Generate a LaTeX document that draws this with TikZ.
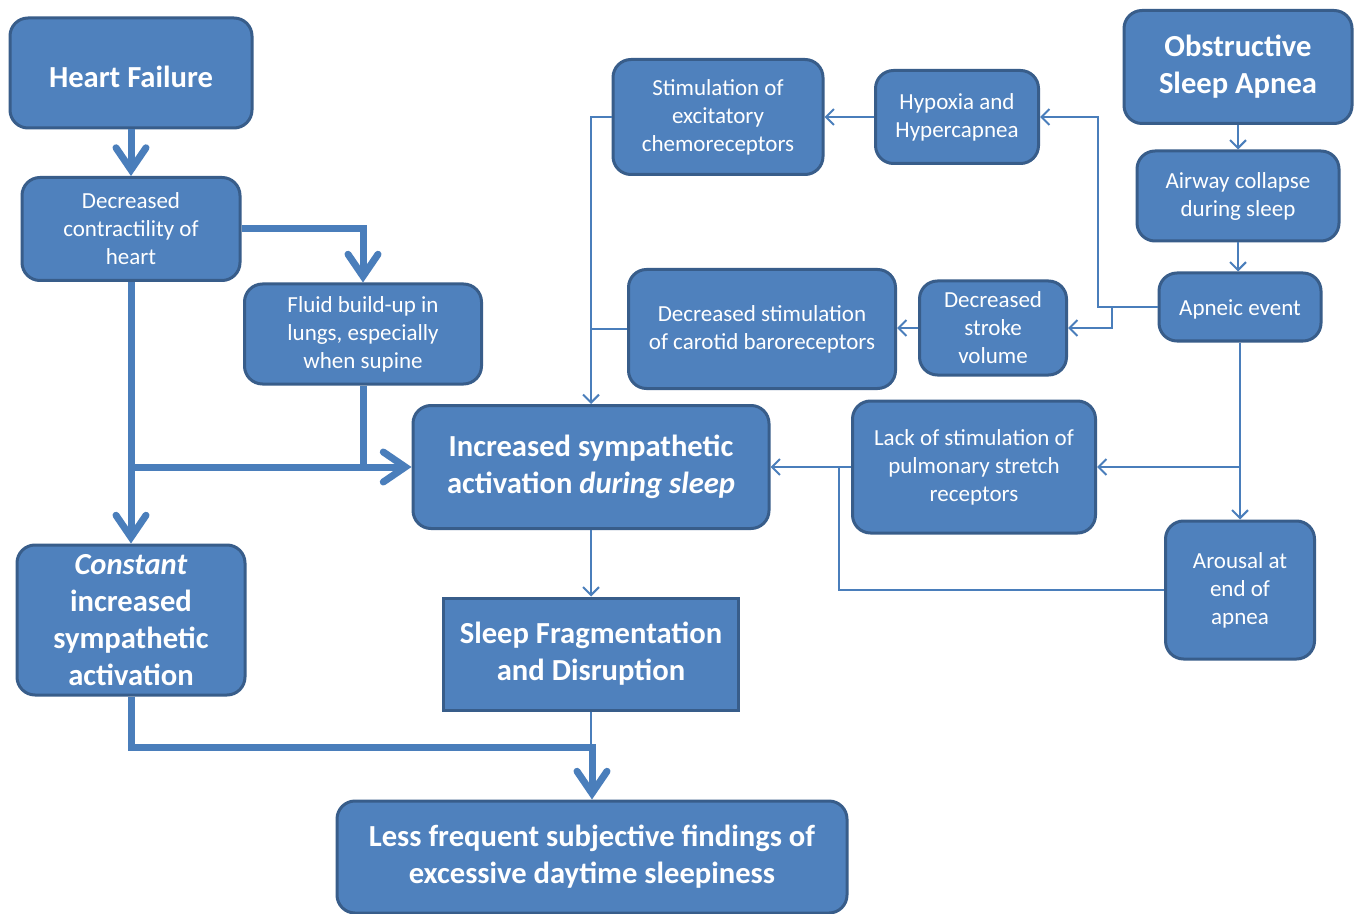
\documentclass[tikz,border=0pt]{standalone}
\usepackage{fontspec}
\setmainfont{Carlito}
\usetikzlibrary{arrows.meta, calc}
\definecolor{boxfill}{HTML}{4F81BD}
\definecolor{boxline}{HTML}{385D8A}
\definecolor{wire}{HTML}{4A7EBB}
\newcommand\smalltxt{\fontsize{11.5}{14}\selectfont}
\newcommand\bigtxt{\fontsize{15.3}{18.5}\selectfont\bfseries}
\tikzset{
	box/.style = {draw=boxline, fill=boxfill, line width=1.5pt, rounded corners=9pt,
		text=white, align=center, inner sep=0pt, font=\smalltxt,
		execute at begin node={\rule{0pt}{10pt}}},
	bigbox/.style = {box, font=\bigtxt, execute at begin node={\rule{0pt}{15pt}}},
	thinline/.style = {draw=wire, line width=1pt},
	thinarr/.style = {thinline, -{Straight Barb[length=4pt, width=8pt]}},
	thickline/.style = {draw=wire, line width=3.5pt},
	thickarr/.style = {thickline, -{Straight Barb[length=11pt, width=15pt, line cap=round]}}
}

\begin{document}
\begin{tikzpicture}[x=0.5pt, y=-0.5pt]
					\useasboundingbox[fill=white] (0,0) rectangle (1358,914);
					% ====== Heart failure side ========
					\node[bigbox, minimum width=121pt, minimum height=55pt] (hf) at (131,73) {Heart Failure};
					\node[box, minimum width=109pt, minimum height=51.5pt] (dc) at (131,229) {Decreased\\contractility of\\heart};
					\node[box, minimum width=118.5pt, minimum height=50pt] (fluid) at (363,334) {Fluid build-up in\\lungs, especially\\when supine};
					\node[bigbox, minimum width=114pt, minimum height=75pt] (const) at (131,620) {\textit{Constant}\\increased\\sympathetic\\activation};
					% ====== Middle ========
					\node[bigbox, minimum width=178pt, minimum height=61.5pt] (incr) at (591,467) {Increased sympathetic\\activation \textit{during sleep}};
					\node[bigbox, rounded corners=0pt, minimum width=147.5pt, minimum height=56pt] (frag) at (591,654) {Sleep Fragmentation\\and Disruption};
					\node[bigbox, minimum width=255pt, minimum height=56pt] (less) at (592,857) {Less frequent subjective findings of\\excessive daytime sleepiness};
					\node[box, minimum width=105pt, minimum height=57.5pt] (stim) at (718,117) {Stimulation of\\excitatory\\chemoreceptors};
					\node[box, minimum width=133.5pt, minimum height=59.5pt] (car) at (762,329) {Decreased stimulation\\of carotid baroreceptors};
					% ====== Sleep apnea side ========
					\node[bigbox, minimum width=114pt, minimum height=56.5pt] (osa) at (1238,67) {Obstructive\\Sleep Apnea};
					\node[box, minimum width=101pt, minimum height=45pt] (air) at (1238,196) {Airway collapse\\during sleep};
					\node[box, minimum width=81pt, minimum height=34pt] (apn) at (1240,307) {Apneic event};
					\node[box, minimum width=81.5pt, minimum height=46.5pt] (hyp) at (957,117) {Hypoxia and\\Hypercapnea};
					\node[box, minimum width=73.5pt, minimum height=47pt] (sv) at (993,328) {Decreased\\stroke\\volume};
					\node[box, minimum width=121.5pt, minimum height=66pt] (lack) at (974,467) {Lack of stimulation of\\pulmonary stretch\\receptors};
					\node[box, minimum width=74.5pt, minimum height=69pt] (aro) at (1240,590) {Arousal at\\end of\\apnea};
					\coordinate (jb) at (592,747);
					\coordinate (ja) at (839,467);
					% ====== Thick links ========
					\draw[thickarr] (hf) -- (dc);
					\draw[thickarr] (dc.east) -| (fluid.north);
					\draw[thickarr] (dc) -- (const);
					\draw[thickline] (fluid.south) -- (fluid.south |- incr.west);
					\draw[thickarr] (dc.south |- incr.west) -- (incr.west);
					\draw[thickarr] (const.south) |- (jb) -- (less.north);
					% ====== Thin links ========
					\draw[thinarr] (osa.south) -- (air.north);
					\draw[thinarr] (air.south) -- (air.south |- apn.north);
					\draw[thinarr] (apn.west) -- ++(-60,0) |- (hyp.east);
					\draw[thinarr] (apn.west) ++(-46,0) |- (sv.east);
					\draw[thinarr] (sv.west) -- (sv.west -| car.east);
					\draw[thinarr] (hyp) -- (stim);
					\draw[thinarr] (stim.west) -| (incr.north);
					\draw[thinline] (car.west) -- (car.west -| incr.north);
					\draw[thinarr] (apn.south) -- (aro.north);
					\draw[thinarr] (apn.south |- lack.east) -- (lack.east);
					\draw[thinarr] (lack.west) -- (incr.east);
					\draw[thinline] (aro.west) -| (ja);
					\draw[thinarr] (incr) -- (frag);
					\draw[thinline] (frag.south) -- (frag.south |- jb);
\end{tikzpicture}
\end{document}
